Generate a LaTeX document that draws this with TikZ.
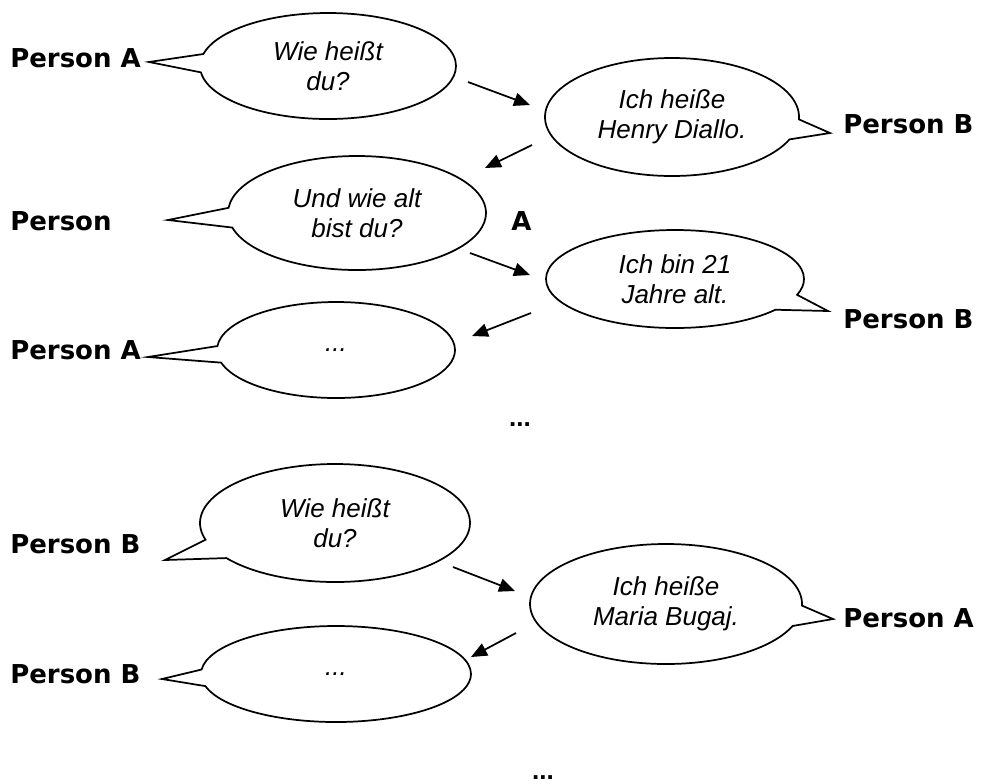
\documentclass[tikz,border=0pt]{standalone}
\usepackage{fontspec}
\setmainfont{Liberation Sans}
\newfontfamily\personfont{DejaVu Sans}
\usetikzlibrary{shapes.callouts,arrows.meta}

\tikzset{
  bubble/.style 2 args={ellipse callout, draw, line width=1.3pt, inner sep=0pt, align=center,
    minimum width=#1*1.5pt, minimum height=#2*1.5pt, callout pointer arc=20,
    font=\fontsize{19.5}{22.5}\selectfont\itshape},
  person/.style={anchor=base west, inner sep=0pt, font=\personfont\bfseries\fontsize{19.5}{22}\selectfont},
  dots/.style={anchor=base, inner sep=0pt, font=\bfseries\fontsize{19.5}{22}\selectfont},
  turn/.style={-{Triangle[length=12pt,width=10pt]}, line width=1.3pt}
}

\begin{document}
\begin{tikzpicture}[x=0.75pt,y=-0.75pt]
        \useasboundingbox (0,0) rectangle (995,783);

        % First dialogue: A asks, B answers
        \node[bubble={128}{53}, callout absolute pointer={(149,62)}] (q1) at (328,66) {Wie heißt\\du?};
        \node[bubble={127}{59}, callout absolute pointer={(830,133)}] (r1) at (672,117) {Ich heiße\\Henry Diallo.};
        \node[bubble={129}{57}, callout absolute pointer={(168,220)}] (q2) at (357,213) {Und wie alt\\bist du?};
        \node[bubble={129}{49}, callout absolute pointer={(828,311)}] (r2) at (675,279) {Ich bin 21\\Jahre alt.};
        \node[bubble={119}{48}, callout absolute pointer={(148,357)}] (q3) at (336,350) {...};

        % Speakers
        \node[person] (pa1) at (10,67) {Person A};
        \node[person] (pb1) at (843,133) {Person B};
        \node[person] (pa2) at (10,230) {Person};
        \node[person] (pa2b) at (511,230) {A};
        \node[person] (pb2) at (843,328) {Person B};
        \node[person] (pa3) at (10,359) {Person A};

        % Turns
        \coordinate (t1s) at (468,82);  \coordinate (t1e) at (530,105);
        \coordinate (t2s) at (532,145); \coordinate (t2e) at (485,168);
        \coordinate (t3s) at (470,253); \coordinate (t3e) at (530,275);
        \coordinate (t4s) at (531,313); \coordinate (t4e) at (472,336);
        \draw[turn] (t1s) -- (t1e);
        \draw[turn] (t2s) -- (t2e);
        \draw[turn] (t3s) -- (t3e);
        \draw[turn] (t4s) -- (t4e);

        \node[dots] (more1) at (520,426) {...};

        % Second dialogue: B asks, A answers
        \node[bubble={135}{59}, callout absolute pointer={(165,560)}] (q4) at (335,523) {Wie heißt\\du?};
        \node[bubble={136}{60}, callout absolute pointer={(833,619)}] (r4) at (666,604) {Ich heiße\\Maria Bugaj.};
        \node[bubble={135}{48}, callout absolute pointer={(162,679)}] (q5) at (336,674) {...};

        \node[person] (pb3) at (10,553) {Person B};
        \node[person] (pa4) at (843,627) {Person A};
        \node[person] (pb4) at (10,683) {Person B};

        \coordinate (t5s) at (453,567); \coordinate (t5e) at (515,591);
        \coordinate (t6s) at (516,633); \coordinate (t6e) at (471,657);
        \draw[turn] (t5s) -- (t5e);
        \draw[turn] (t6s) -- (t6e);

        \node[dots] (more2) at (543,779) {...};
\end{tikzpicture}
\end{document}
